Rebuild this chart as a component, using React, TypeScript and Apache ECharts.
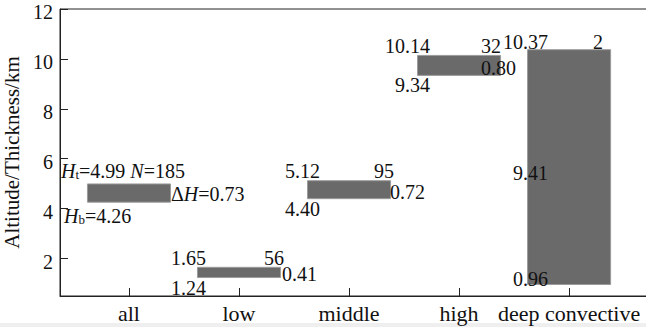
import React, { useEffect, useRef } from "react";
import * as echarts from "echarts";

const categories = ["all", "low", "middle", "high", "deep convective"];
const topHeights = [4.99, 1.65, 5.12, 10.14, 10.37];
const baseHeights = [4.26, 1.24, 4.4, 9.34, 0.96];
const thickness = [0.73, 0.41, 0.72, 0.8, 9.41];
const counts = [185, 56, 95, 32, 2];
const yTicks = [2, 4, 6, 8, 10, 12];

const FONT = "Liberation Serif";
const TXT = "#111";
const NUM_SIZE = 20;

// label placement (pixels relative to the category centre / value positions)
const layout = [
  { topAlign: "left", topDx: -68, topDy: -13, nDx: 0, thkAlign: "left", thkDx: 42, thkDy: 1, baseAlign: "left", baseDx: -65, baseDy: 14 },
  { topAlign: "right", topDx: -33, topDy: -9, nDx: 45, thkAlign: "left", thkDx: 43, thkDy: 2, baseAlign: "right", baseDx: -33, baseDy: 10 },
  { topAlign: "right", topDx: -29, topDy: -10, nDx: 45, thkAlign: "left", thkDx: 41, thkDy: 2, baseAlign: "right", baseDx: -29, baseDy: 10 },
  { topAlign: "right", topDx: -29, topDy: -9, nDx: 42, thkAlign: "left", thkDx: 22, thkDy: 3, baseAlign: "right", baseDx: -29, baseDy: 10 },
  { topAlign: "right", topDx: -21, topDy: -8, nDx: 34, thkAlign: "right", thkDx: -21, thkDy: 6, baseAlign: "right", baseDx: -21, baseDy: -6 },
];

const rich = {
  i: { fontStyle: "italic", fontSize: NUM_SIZE, lineHeight: 20, fontFamily: FONT, fill: TXT, color: TXT },
  s: { fontSize: 13, lineHeight: 7, verticalAlign: "bottom", fontFamily: FONT, fill: TXT, color: TXT },
  r: { fontSize: NUM_SIZE, lineHeight: 20, fontFamily: FONT, fill: TXT, color: TXT },
};

function txt(x: number, y: number, text: string, align: string) {
  return {
    type: "text",
    x,
    y,
    z2: 10,
    style: {
      text,
      fill: TXT,
      fontSize: NUM_SIZE,
      fontFamily: FONT,
      align,
      verticalAlign: "middle",
      rich,
    },
  };
}

export default function App() {
  const ref = useRef<HTMLDivElement>(null);
  useEffect(() => {
    if (!ref.current) return;
    const chart = echarts.init(ref.current, undefined, { renderer: "svg" });
    const data = categories.map((_, i) => [i + 1, baseHeights[i], topHeights[i]]);
    chart.setOption({
      animation: false,
      backgroundColor: "#fff",
      textStyle: { fontFamily: FONT },
      grid: {
        left: 60,
        right: -10,
        top: 9,
        bottom: 31,
        show: true,
        borderColor: "#222",
        borderWidth: 1,
        containLabel: false,
        outerBoundsMode: "none",
      },
      xAxis: {
        type: "value",
        min: 0.373,
        max: 5.79,
        splitLine: { show: false },
        axisLine: { show: true, lineStyle: { color: "#222", width: 1 } },
        axisTick: { show: true, inside: true, length: 8, customValues: [1, 2, 3, 4, 5], lineStyle: { color: "#222" } },
        axisLabel: {
          customValues: [1, 2, 3, 4, 5],
          formatter: (v: number) => categories[Math.round(v) - 1] ?? "",
          fontFamily: FONT,
          fontSize: 22,
          color: TXT,
          margin: 6,
          hideOverlap: false,
        },
      },
      yAxis: {
        type: "value",
        min: 0.5,
        max: 12,
        name: "Altitude/Thickness/km",
        nameLocation: "middle",
        nameGap: 38,
        nameTextStyle: { fontFamily: FONT, fontSize: 21, color: TXT },
        splitLine: { show: false },
        axisLine: { show: true, lineStyle: { color: "#222", width: 1 } },
        axisTick: { show: true, inside: true, length: 8, customValues: yTicks, lineStyle: { color: "#222" } },
        axisLabel: {
          customValues: yTicks,
          fontFamily: FONT,
          fontSize: NUM_SIZE,
          color: TXT,
          margin: 7,
          verticalAlign: "top",
          lineHeight: 6,
        },
      },
      graphic: [
        { type: "rect", left: 0, bottom: 0, shape: { width: 646, height: 4 }, style: { fill: "#efefef" }, silent: true },
      ],
      series: [
        {
          type: "custom",
          clip: false,
          data,
          renderItem: (params: any, api: any) => {
            const i = params.dataIndex;
            const xv = api.value(0);
            const lo = api.value(1);
            const hi = api.value(2);
            const cx = api.coord([xv, lo])[0];
            const yLo = api.coord([xv, lo])[1];
            const yHi = api.coord([xv, hi])[1];
            const w = api.size([0.755, 0])[0];
            const L = layout[i];
            const children: any[] = [
              {
                type: "rect",
                shape: { x: cx - w / 2, y: yHi, width: w, height: yLo - yHi },
                style: { fill: "#6a6a6a", stroke: "#9c9c9c", lineWidth: 1 },
              },
            ];
            const yMid = (yHi + yLo) / 2;
            if (i === 0) {
              children.push(
                txt(cx + L.topDx, yHi + L.topDy, `{i|H}{s|t}{r|=${topHeights[i].toFixed(2)} }{i|N}{r|=${counts[i]}}`, "left")
              );
              children.push(txt(cx + L.thkDx, yMid + L.thkDy, `{r|Δ}{i|H}{r|=${thickness[i].toFixed(2)}}`, "left"));
              children.push(txt(cx + L.baseDx, yLo + L.baseDy, `{i|H}{s|b}{r|=${baseHeights[i].toFixed(2)}}`, "left"));
            } else {
              children.push(txt(cx + L.topDx, yHi + L.topDy, topHeights[i].toFixed(2), L.topAlign));
              children.push(txt(cx + L.nDx, yHi + L.topDy, String(counts[i]), "right"));
              children.push(txt(cx + L.thkDx, yMid + L.thkDy, thickness[i].toFixed(2), L.thkAlign));
              children.push(txt(cx + L.baseDx, yLo + L.baseDy, baseHeights[i].toFixed(2), L.baseAlign));
            }
            return { type: "group", children };
          },
        },
      ],
    });
    return () => chart.dispose();
  }, []);
  return (
    <div
      ref={ref}
      style={{ position: "fixed", left: 0, top: 0, width: 646, height: 327, background: "#fff" }}
    />
  );
}
